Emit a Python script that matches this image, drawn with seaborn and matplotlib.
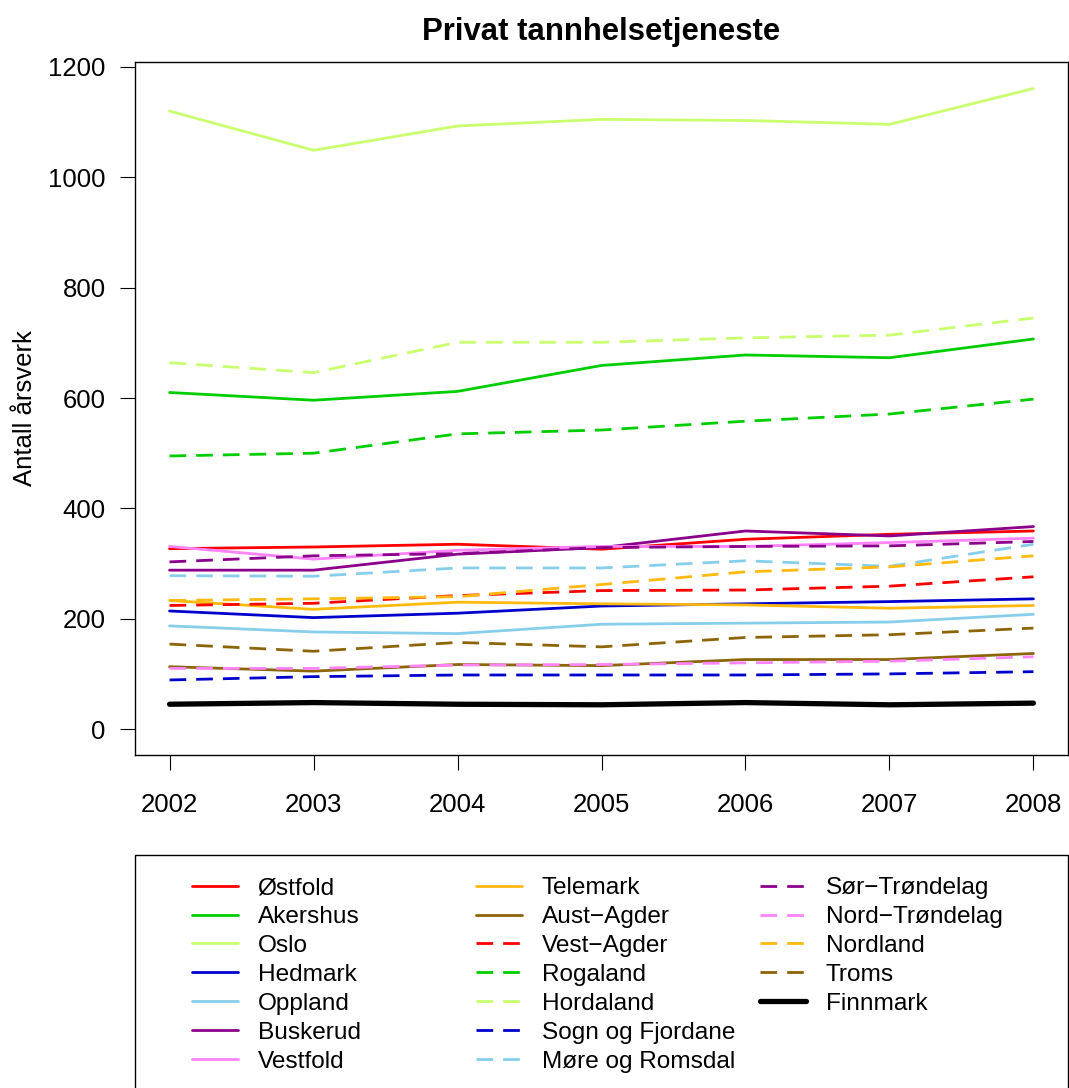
import pandas as pd
import matplotlib
matplotlib.use("Agg")
import matplotlib.pyplot as plt
import seaborn as sns
from matplotlib.patches import Rectangle
from matplotlib.lines import Line2D

# Data (årsverk per fylke)
years = [2002, 2003, 2004, 2005, 2006, 2007, 2008]

regions = ["Østfold", "Akershus", "Oslo", "Hedmark", "Oppland", "Buskerud", "Vestfold",
           "Telemark", "Aust−Agder", "Vest−Agder", "Rogaland", "Hordaland",
           "Sogn og Fjordane", "Møre og Romsdal", "Sør−Trøndelag", "Nord−Trøndelag",
           "Nordland", "Troms", "Finnmark"]

ostfold = [327, 330, 335, 326, 344, 353, 359]
akershus = [610, 596, 612, 659, 678, 673, 707]
oslo = [1120, 1049, 1093, 1105, 1103, 1096, 1161]
hedmark = [214, 202, 210, 223, 227, 231, 236]
oppland = [187, 176, 173, 190, 192, 194, 208]
buskerud = [288, 288, 317, 329, 359, 350, 367]
vestfold = [331, 308, 324, 331, 331, 338, 346]
telemark = [233, 217, 230, 227, 225, 219, 224]
aust_agder = [113, 105, 117, 115, 126, 126, 137]
vest_agder = [224, 228, 242, 251, 252, 259, 276]
rogaland = [495, 500, 535, 542, 558, 571, 598]
hordaland = [664, 646, 701, 701, 709, 714, 745]
sogn_fjordane = [89, 95, 98, 98, 98, 100, 104]
more_romsdal = [278, 277, 292, 292, 305, 295, 335]
sor_trondelag = [303, 314, 318, 329, 331, 332, 340]
nord_trondelag = [110, 110, 116, 117, 120, 123, 131]
nordland = [233, 236, 240, 262, 285, 294, 314]
troms = [154, 141, 157, 149, 166, 171, 183]
finnmark = [45, 48, 45, 44, 48, 44, 47]

values = [ostfold, akershus, oslo, hedmark, oppland, buskerud, vestfold,
          telemark, aust_agder, vest_agder, rogaland, hordaland,
          sogn_fjordane, more_romsdal, sor_trondelag, nord_trondelag,
          nordland, troms, finnmark]

base_cols = ["#FF0000", "#00CD00", "#CAFF70", "#0000CD", "#87CEEB", "#8B008B",
             "#FF83FA", "#FFB90F", "#8B6508"]
colors = base_cols + base_cols + ["#000000"]
dashed = [False] * 9 + [True] * 9 + [False]

df = pd.DataFrame({
    "år": years * len(regions),
    "fylke": [r for r in regions for _ in years],
    "årsverk": [v for vals in values for v in vals],
})

sns.set_style("ticks")
plt.rcParams["font.family"] = ["Liberation Sans", "DejaVu Sans"]
plt.rcParams["text.color"] = "black"
plt.rcParams["axes.labelcolor"] = "black"

fig = plt.figure(figsize=(10.69, 10.88), dpi=100)
ax = fig.add_axes([135 / 1069, 1 - 755 / 1088, 933 / 1069, 693 / 1088])

lw = 2.0
lw_fin = 3.8
dash = (6, 3.6)
for i, reg in enumerate(regions):
    sub = df[df["fylke"] == reg]
    sns.lineplot(data=sub, x="år", y="årsverk", ax=ax, color=colors[i],
                 lw=lw_fin if reg == "Finnmark" else lw, legend=False)
    if dashed[i]:
        ax.lines[-1].set_dashes(dash)

ax.set_xlim(2001.76, 2008.24)
ax.set_ylim(-47, 1209)
ax.set_xticks(years)
ax.set_yticks(range(0, 1201, 200))
ax.tick_params(axis="both", labelsize=18.5, length=11, width=0.8, pad=10, colors="black")
ax.tick_params(axis="x", pad=16)
for s in ax.spines.values():
    s.set_linewidth(1.0)
    s.set_color("black")
ax.set_xlabel("")
ax.set_ylabel("Antall årsverk", fontsize=18.5, labelpad=8, color="black")
ax.set_title("Privat tannhelsetjeneste", fontsize=22.4, fontweight="bold", pad=16,
             color="black")

# legend box in the lower part
fig.patches.append(Rectangle((135 / 1069, -0.05), 932.5 / 1069, 0.05 + 1 - 855 / 1088,
                             transform=fig.transFigure, fill=False, lw=1.0, ec="black"))

col_x = [192 / 1069, 476 / 1069, 760 / 1069]
for c in range(3):
    handles = []
    idx = range(c * 7, min(c * 7 + 7, len(regions)))
    for i in idx:
        h = Line2D([], [], color=colors[i], lw=lw_fin if regions[i] == "Finnmark" else lw)
        if dashed[i]:
            h.set_dashes(dash)
        handles.append(h)
    leg = fig.legend(handles, [regions[i] for i in idx], loc="upper left",
                     bbox_to_anchor=(col_x[c], 1 - 877 / 1088), frameon=False,
                     fontsize=17.6, handlelength=1.88, handletextpad=0.8,
                     labelspacing=0.28, borderpad=0, borderaxespad=0)
    for t in leg.get_texts():
        t.set_color("black")

fig.savefig("out.png", dpi=100)
